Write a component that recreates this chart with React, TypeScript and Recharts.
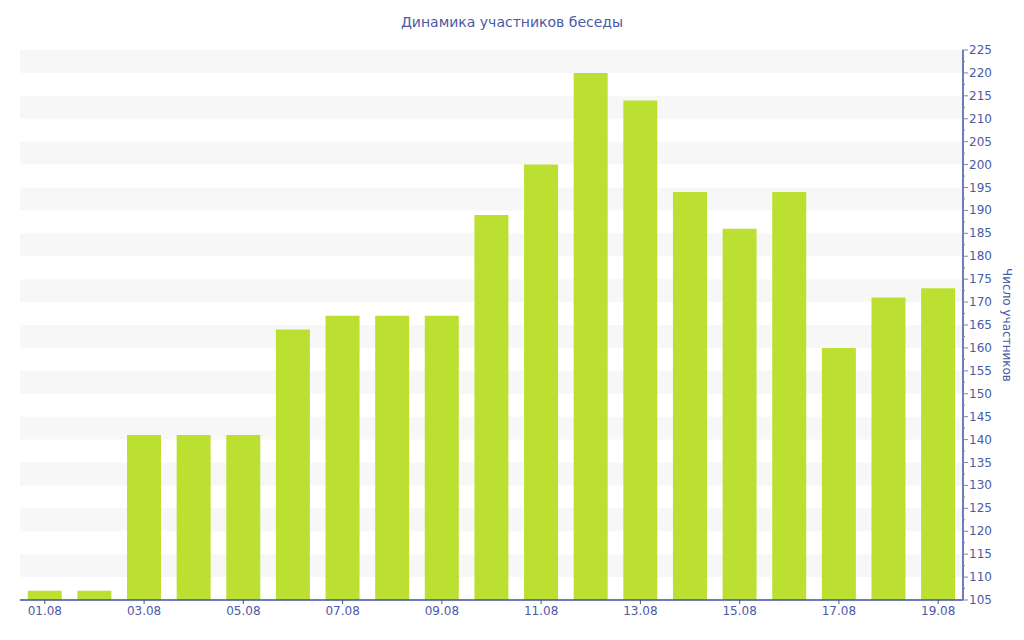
import { BarChart, Bar, XAxis, YAxis, ReferenceArea } from 'recharts'

const days = ['01.08', '02.08', '03.08', '04.08', '05.08', '06.08', '07.08', '08.08', '09.08', '10.08',
  '11.08', '12.08', '13.08', '14.08', '15.08', '16.08', '17.08', '18.08', '19.08']
const members = [107, 107, 141, 141, 141, 164, 167, 167, 167, 189, 200, 220, 214, 194, 186, 194, 160, 171, 173]
const yTicks = [105, 107.5, 110, 112.5, 115, 117.5, 120, 122.5, 125, 127.5, 130, 132.5, 135, 137.5, 140, 142.5,
  145, 147.5, 150, 152.5, 155, 157.5, 160, 162.5, 165, 167.5, 170, 172.5, 175, 177.5, 180, 182.5, 185, 187.5,
  190, 192.5, 195, 197.5, 200, 202.5, 205, 207.5, 210, 212.5, 215, 217.5, 220, 222.5, 225]
const stripes = [110, 120, 130, 140, 150, 160, 170, 180, 190, 200, 210, 220]

const data = days.map((day, i) => ({ day, members: members[i] }))
const blue = '#3f51a5'
const textBlue = '#4a5aa6'
const font = 'DejaVu Sans, Verdana, sans-serif'

function YTick(props: any) {
  const { x, y, payload } = props
  const ax = x - 6 // axis line position
  const major = payload.value % 5 === 0
  return (
    <g>
      <line x1={ax - 3} x2={major ? ax + 3 : ax} y1={y} y2={y} stroke="#7a84b8" />
      {major && (
        <text x={ax + 4} y={y} dy={4} fill={textBlue} fontSize={12} fontFamily={font}>
          {payload.value}
        </text>
      )}
    </g>
  )
}

export default function App() {
  return (
    <div style={{ position: 'absolute', left: 0, top: 0, width: 1024, height: 640, background: '#fff', fontFamily: font }}>
      <div style={{ position: 'absolute', top: 14, width: 1024, textAlign: 'center', fontSize: 14, color: textBlue }}>
        Динамика участников беседы
      </div>
      <div style={{ position: 'absolute', left: 1007, top: 325, transform: 'translate(-50%, -50%) rotate(90deg)', fontSize: 12, color: textBlue, whiteSpace: 'nowrap' }}>
        Число участников
      </div>
      <BarChart width={1024} height={640} data={data} margin={{ top: 50, right: 21, bottom: 10, left: 20 }} barCategoryGap="15.6%">
        {stripes.map((s) => (
          <ReferenceArea key={s} y1={s} y2={s + 5} fill="#f7f7f7" fillOpacity={1} stroke="none" ifOverflow="hidden" />
        ))}
        <XAxis dataKey="day" interval={1} height={30} axisLine={{ stroke: blue, strokeWidth: 1.5 }}
          tickLine={{ stroke: blue }} tickSize={4}
          tick={{ fill: textBlue, fontSize: 12, fontFamily: font }} />
        <YAxis orientation="right" domain={[105, 225]} ticks={yTicks} interval={0} width={40}
          axisLine={{ stroke: blue, strokeWidth: 1.5 }} tickLine={false} tick={<YTick />} />
        <Bar dataKey="members" fill="#bce031" isAnimationActive={false} />
      </BarChart>
    </div>
  )
}
